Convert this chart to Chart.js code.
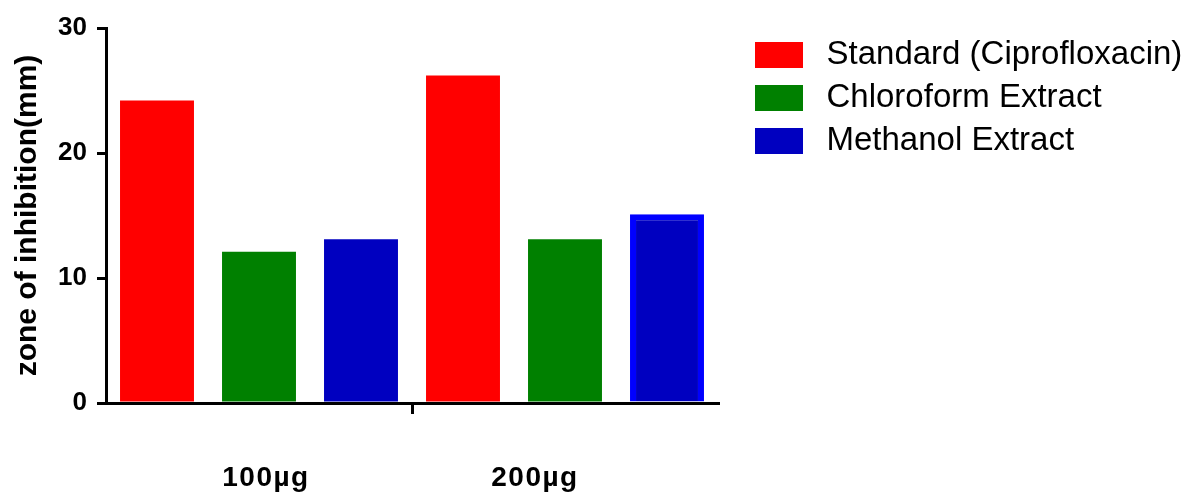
<!DOCTYPE html>
<html lang="en">
<head>
    <meta charset="UTF-8">
    <meta name="viewport" content="width=device-width, initial-scale=1.0">
    <title>Zone of inhibition</title>
    <style>
        html, body { margin: 0; padding: 0; background: #fff; }
        #wrap { width: 1189px; height: 496px; position: relative; }
    </style>
</head>
<body>
    <div id="wrap">
        <canvas id="myChart"></canvas>
    </div>

    <script src="https://cdn.jsdelivr.net/npm/chart.js"></script>

    <script>
        const doses = ['100µg', '200µg']
        const seriesNames = ['Standard (Ciprofloxacin)', 'Chloroform Extract', 'Methanol Extract']
        const standardVals = [24.2, 26.2]
        const chloroformVals = [12.1, 13.1]
        const methanolVals = [13.1, 15.1]
        const yTicks = [0, 10, 20, 30]

        const FONT = '"Liberation Sans", Arial, sans-serif'
        const colors = ['#ff0000', '#008000', '#0000c0']

        // legend swatch: box sits inside a wider transparent image so the text lands further right
        function swatch(fill) {
            const c = document.createElement('canvas')
            c.width = 82
            c.height = 26
            const g = c.getContext('2d')
            g.fillStyle = fill
            g.fillRect(27, 0, 48, 26)
            return c
        }
        const swatches = colors.map(swatch)

        // category labels sit a bit off the group centres in the original
        const doseLabels = {
            id: 'doseLabels',
            afterDraw(chart) {
                const { ctx, scales: { x } } = chart
                const shift = [7, -30]
                ctx.save()
                ctx.font = `bold 28px ${FONT}`
                ctx.letterSpacing = '1.5px'
                ctx.fillStyle = '#000'
                ctx.textAlign = 'center'
                ctx.textBaseline = 'middle'
                doses.forEach((d, i) => ctx.fillText(d, x.getPixelForValue(i) + shift[i], 478))
                ctx.restore()
            }
        }

        const ctx = document.getElementById('myChart')
        new Chart(ctx, {
            type: 'bar',
            data: {
                labels: doses,
                datasets: [
                    { label: seriesNames[0], data: standardVals, backgroundColor: colors[0], borderWidth: 0 },
                    { label: seriesNames[1], data: chloroformVals, backgroundColor: colors[1], borderWidth: 0 },
                    { label: seriesNames[2], data: methanolVals, backgroundColor: colors[2],
                      borderColor: ['#0000c0', '#0000ff'], borderWidth: [0, 6] }
                ]
            },
            options: {
                responsive: true,
                maintainAspectRatio: false,
                animation: false,
                devicePixelRatio: 1,
                categoryPercentage: 1,
                barPercentage: 0.725,
                layout: { padding: { top: 28, left: 0, bottom: 0, right: 0 } },
                scales: {
                    x: {
                        afterFit: s => { s.height = 93 },
                        ticks: { display: false },
                        grid: {
                            offset: true,
                            drawOnChartArea: false,
                            tickLength: 11,
                            lineWidth: 3,
                            color: c => c.index === 1 ? '#000' : 'rgba(0,0,0,0)'
                        },
                        border: { color: '#000', width: 3 }
                    },
                    y: {
                        min: 0,
                        max: 30,
                        afterFit: s => { s.width = 106 },
                        afterBuildTicks: s => { s.ticks = yTicks.map(v => ({ value: v })) },
                        ticks: { font: { size: 26, weight: 'bold', family: FONT }, color: '#000', padding: 10 },
                        grid: { drawOnChartArea: false, tickLength: 9, color: '#000', lineWidth: 3 },
                        border: { color: '#000', width: 3 },
                        title: {
                            display: true,
                            text: 'zone of inhibition(mm)',
                            color: '#000',
                            font: { size: 30, weight: 'bold', family: FONT, lineHeight: 1 },
                            padding: { top: 13, bottom: 0 }
                        }
                    }
                },
                plugins: {
                    tooltip: { enabled: false },
                    legend: {
                        position: 'right',
                        align: 'start',
                        maxWidth: 471,
                        labels: {
                            usePointStyle: true,
                            pointStyleWidth: 82,
                            boxHeight: 26,
                            padding: 10,
                            color: '#000',
                            font: { size: 33, family: FONT },
                            generateLabels: chart => chart.data.datasets.map((ds, i) => ({
                                text: ds.label,
                                pointStyle: swatches[i],
                                fillStyle: colors[i],
                                strokeStyle: 'rgba(0,0,0,0)',
                                lineWidth: 0,
                                hidden: false,
                                datasetIndex: i,
                                fontColor: '#000'
                            }))
                        }
                    }
                }
            },
            plugins: [doseLabels]
        })
    </script>
</body>
</html>
